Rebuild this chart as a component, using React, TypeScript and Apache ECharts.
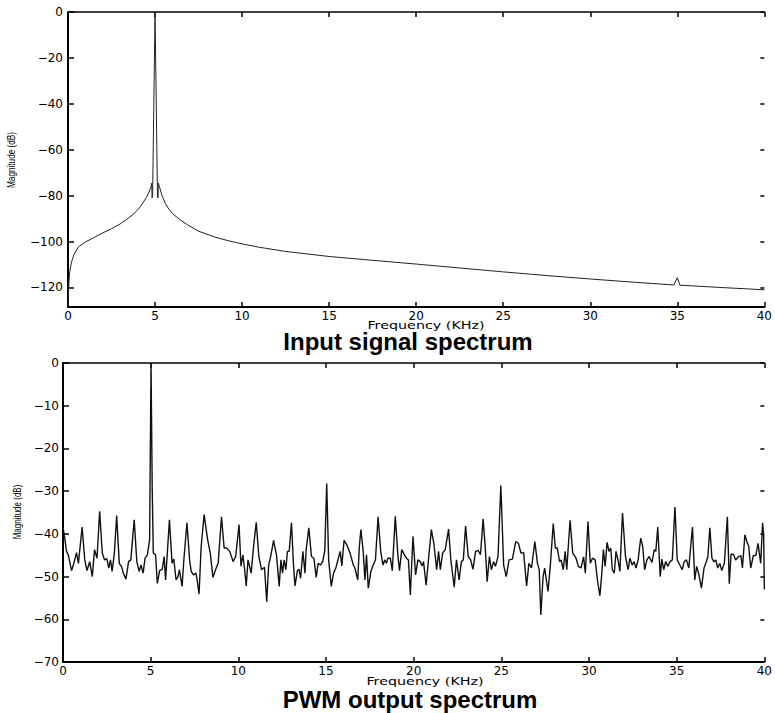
import React, { useEffect, useRef } from "react";
import * as echarts from "echarts";

const freqTicks = [0, 5, 10, 15, 20, 25, 30, 35, 40];
const inputTicks = [0, -20, -40, -60, -80, -100, -120];
const pwmTicks = [0, -10, -20, -30, -40, -50, -60, -70];

const inputFreq = [
  0, 0.02, 0.05, 0.1, 0.2, 0.35, 0.6, 1.0, 1.5, 2.0, 2.5, 3.0, 3.5, 3.8, 4.1, 4.3, 4.5, 4.65, 4.75,
  4.81, 4.83, 4.86, 5.0, 5.14, 5.17, 5.19, 5.25, 5.4, 5.6, 5.8, 6.0, 6.4, 6.8, 7.5, 8.5, 9.3, 10, 11,
  12.5, 15, 17.7, 20, 22.5, 25, 27.5, 30, 32.5, 34.8, 35.0, 35.15, 37.5, 40,
];
const inputMag = [
  -128.5, -124, -118, -113, -109, -105.5, -102.3, -100.2, -98.2, -96.2, -94.4, -92.3, -89.6, -87.8,
  -85.3, -83.2, -80.8, -78.5, -76.5, -74.5, -81, -80, 0, -80, -81, -74.5, -76, -80, -83.5, -86,
  -87.8, -90.3, -92.4, -95.5, -98.2, -99.8, -101, -102.5, -104.3, -106.5, -108.3, -109.8, -111.5,
  -113.2, -114.8, -116.3, -117.7, -118.9, -115.7, -119, -120, -121,
];

const pwmFreq = [
  0, 0.1, 0.2, 0.3, 0.49, 0.62, 0.77, 0.88, 1.09, 1.24, 1.37, 1.52, 1.67, 1.8, 1.94, 2.09, 2.24,
  2.37, 2.5, 2.61, 2.71, 2.8, 2.93, 3.06, 3.21, 3.35, 3.44, 3.59, 3.74, 3.87, 4.06, 4.21, 4.34,
  4.45, 4.57, 4.68, 4.81, 4.94, 5.02, 5.09, 5.15, 5.28, 5.38, 5.51, 5.66, 5.77, 5.85, 6.07, 6.22,
  6.32, 6.45, 6.56, 6.64, 6.79, 6.9, 7.07, 7.22, 7.31, 7.44, 7.58, 7.65, 7.76, 7.88, 8.05, 8.25,
  8.4, 8.55, 8.7, 8.85, 9.04, 9.19, 9.32, 9.51, 9.7, 9.85,
  10.04, 10.15, 10.26, 10.36, 10.45, 10.55, 10.64, 10.73, 10.87, 11.02, 11.17, 11.32, 11.49, 11.62,
  11.73, 11.86, 12.01, 12.18, 12.33, 12.43, 12.52, 12.61, 12.71, 12.8, 12.9, 13.03, 13.14, 13.23,
  13.37, 13.46, 13.55, 13.68, 13.8, 13.87, 14.02, 14.17, 14.31, 14.44, 14.55, 14.68, 14.81, 14.93,
  15.04, 15.15, 15.3, 15.43, 15.56, 15.68, 15.81, 15.9, 16.03, 16.18, 16.37, 16.56, 16.65, 16.81,
  16.9, 16.99, 17.12, 17.22, 17.31, 17.41, 17.56, 17.69, 17.82, 17.97, 18.12, 18.25, 18.35, 18.44,
  18.53, 18.67, 18.78, 18.95, 19.1, 19.19, 19.32, 19.47, 19.59, 19.7, 19.81,
  19.96, 20.11, 20.24, 20.37, 20.48, 20.56, 20.71, 20.86, 21.01, 21.16, 21.31, 21.42, 21.52, 21.65,
  21.8, 21.99, 22.12, 22.31, 22.44, 22.59, 22.72, 22.83, 22.96, 23.11, 23.25, 23.38, 23.53, 23.68,
  23.81, 23.96, 24.09, 24.19, 24.32, 24.43, 24.56, 24.66, 24.81, 24.97, 25.13, 25.28, 25.44, 25.63,
  25.82, 25.97, 26.12, 26.27, 26.44, 26.57, 26.72, 26.91, 27.06, 27.16, 27.25, 27.38, 27.47, 27.66,
  27.79, 27.96, 28.08, 28.19, 28.32, 28.41, 28.53, 28.64, 28.73, 28.92, 29.07, 29.26, 29.39, 29.54,
  29.69,
  29.79, 29.94, 30.07, 30.2, 30.35, 30.48, 30.62, 30.73, 30.82, 30.92, 31.03, 31.14, 31.24, 31.33,
  31.44, 31.54, 31.65, 31.76, 31.91, 32.08, 32.23, 32.33, 32.46, 32.57, 32.68, 32.8, 32.95, 33.06,
  33.17, 33.3, 33.43, 33.59, 33.72, 33.81, 33.92, 34.06, 34.15, 34.26, 34.37, 34.49, 34.62, 34.75,
  34.9, 35.03, 35.18, 35.31, 35.43, 35.56, 35.69, 35.9, 36.03, 36.14, 36.25, 36.41, 36.56, 36.69,
  36.78, 36.89, 37.01, 37.12, 37.23, 37.34, 37.46, 37.57, 37.72, 37.89, 38.0, 38.1, 38.25, 38.36,
  38.51, 38.66, 38.75, 38.89, 39.0, 39.11, 39.22, 39.37, 39.51, 39.64, 39.79, 39.9, 39.96, 40.0,
];
const pwmMag = [
  -38.4, -41.0, -44.1, -44.9, -48.6, -46.9, -44.4, -46.9, -38.4, -46.1, -48.6, -46.5, -50.0, -43.7,
  -45.7, -34.7, -44.5, -46.1, -45.8, -48.0, -46.1, -48.8, -44.5, -35.7, -46.9, -47.8, -49.2, -50.6,
  -46.5, -46.1, -36.7, -46.5, -48.8, -47.3, -49.2, -45.7, -44.9, -41.4, 0, -30, -44.5, -44.9, -51.6,
  -48.6, -48.3, -45.3, -50.8, -36.7, -46.9, -45.9, -50.8, -50.0, -48.4, -52.3, -45.7, -37.4, -46.1,
  -48.8, -49.6, -49.2, -50.8, -54.1, -42.9, -35.5, -41.4, -44.5, -50.2, -48.4, -46.9, -36.0, -43.3,
  -43.3, -44.1, -46.5, -45.3,
  -37.8, -47.6, -44.9, -48.4, -52.2, -46.1, -47.6, -49.2, -42.9, -37.3, -45.3, -48.4, -47.8, -55.9,
  -47.3, -44.9, -41.5, -45.1, -52.3, -46.1, -49.2, -46.1, -48.4, -44.1, -44.1, -37.4, -46.9, -52.2,
  -48.6, -48.3, -50.4, -44.1, -49.2, -43.6, -38.6, -45.3, -45.7, -50.2, -46.9, -47.3, -46.5, -43.9,
  -28.2, -46.1, -52.3, -49.2, -48.0, -46.1, -44.1, -47.5, -41.5, -42.5, -44.5, -47.3, -48.0, -50.8,
  -42.9, -39.0, -44.1, -50.8, -44.9, -52.7, -48.8, -47.3, -46.1, -36.0, -44.1, -47.3, -46.1, -46.9,
  -45.7, -45.7, -48.6, -35.9, -45.1, -48.6, -43.7, -44.9, -45.7, -46.1, -54.3,
  -40.6, -49.6, -46.1, -46.5, -47.5, -46.5, -52.0, -45.3, -39.0, -42.5, -48.4, -44.1, -48.4, -44.5,
  -43.7, -38.9, -46.1, -52.5, -46.1, -50.8, -46.5, -46.1, -38.2, -45.3, -46.1, -48.3, -44.1, -43.9,
  -44.9, -36.5, -43.7, -51.2, -45.3, -48.4, -46.5, -47.6, -45.3, -28.7, -47.3, -50.0, -46.1, -45.9,
  -41.8, -42.2, -44.5, -44.4, -52.2, -46.9, -48.0, -41.8, -46.9, -48.4, -59.0, -50.0, -48.0, -53.5,
  -47.6, -37.6, -43.3, -43.3, -46.5, -46.1, -48.4, -44.1, -48.4, -36.8, -44.5, -45.7, -47.6, -48.0,
  -45.4,
  -49.2, -37.1, -46.9, -45.7, -46.1, -50.8, -54.5, -49.2, -43.7, -47.6, -42.0, -44.1, -43.3, -48.4,
  -49.2, -44.1, -46.1, -48.8, -35.1, -45.3, -48.4, -45.7, -47.3, -46.5, -48.0, -46.1, -41.0, -42.9,
  -48.4, -46.1, -45.3, -46.7, -43.7, -44.1, -38.4, -50.0, -45.9, -48.4, -46.5, -47.6, -46.5, -46.1,
  -33.7, -46.1, -47.3, -48.4, -46.5, -46.1, -48.0, -38.4, -50.8, -47.6, -49.2, -52.7, -48.0, -46.5,
  -45.3, -38.6, -45.7, -46.5, -46.1, -48.0, -46.9, -48.6, -46.9, -36.0, -51.7, -44.7, -44.9, -46.1,
  -45.4, -45.1, -48.0, -40.2, -41.8, -42.9, -48.0, -45.1, -45.1, -42.2, -46.9, -37.4, -40.6, -53.0,
];

const titles = ["Input signal spectrum", "PWM output spectrum"];
const xName = "Frequency (KHz)";
const yName = "Magnitude (dB)";

const fmt = (v: number) => (v < 0 ? "\u2212" + Math.abs(v) : String(v));

const TICK_FONT = "DejaVu Sans";

function xAxes(grid: number) {
  const base = {
    type: "value" as const,
    gridIndex: grid,
    min: freqTicks[0],
    max: freqTicks[freqTicks.length - 1],
    interval: 5,
    splitLine: { show: false },
    axisTick: { inside: true, length: 5, lineStyle: { color: "#000", width: 1.5 } },
  };
  return [
    {
      ...base,
      position: "bottom",
      axisLine: { show: true, onZero: false, lineStyle: { color: "#000", width: 2 } },
      axisLabel: { margin: 3, color: "#000", fontFamily: TICK_FONT, fontSize: 12 },
    },
    {
      ...base,
      position: "top",
      axisLine: { show: true, onZero: false, lineStyle: { color: "#000", width: 1.5 } },
      axisLabel: { show: false },
    },
  ];
}

function yAxes(grid: number, min: number, ticks: number[], margin: number) {
  const base = {
    type: "value" as const,
    gridIndex: grid,
    min,
    max: 0,
    splitLine: { show: false },
  };
  return [
    {
      ...base,
      position: "left",
      axisLine: { show: true, onZero: false, lineStyle: { color: "#000", width: 2 } },
      axisTick: {
        inside: true,
        length: 6,
        customValues: ticks,
        lineStyle: { color: "#000", width: 1.5 },
      },
      axisLabel: {
        margin,
        color: "#000",
        fontFamily: TICK_FONT,
        fontSize: 12,
        customValues: ticks,
        formatter: (v: number) => fmt(v),
      },
    },
    {
      ...base,
      position: "right",
      axisLine: { show: false, onZero: false },
      axisTick: {
        show: true,
        inside: true,
        length: 4,
        customValues: ticks,
        lineStyle: { color: "#000", width: 1.5 },
      },
      axisLabel: { show: false },
    },
  ];
}

export default function App() {
  const ref = useRef<HTMLDivElement>(null);

  useEffect(() => {
    if (!ref.current) return;
    const chart = echarts.init(ref.current, undefined, { renderer: "svg" });

    const inputData = inputFreq.map((f, i) => [f, inputMag[i]]);
    const pwmData = pwmFreq.map((f, i) => [f, pwmMag[i]]);

    const text = (
      t: string,
      x: number,
      y: number,
      size: number,
      opts: { bold?: boolean; family?: string; rotation?: number; scaleX?: number } = {}
    ) => ({
      type: "text",
      x,
      y,
      rotation: opts.rotation || 0,
      scaleX: opts.scaleX || 1,
      scaleY: 1,
      silent: true,
      style: {
        text: t,
        fill: "#000",
        fontSize: size,
        fontFamily: opts.family || "Liberation Sans",
        fontWeight: opts.bold ? "bold" : "normal",
        textAlign: "center",
        textVerticalAlign: "middle",
        align: "center",
        verticalAlign: "middle",
      },
    });

    chart.setOption({
      animation: false,
      backgroundColor: "#fff",
      grid: [
        { left: 68, top: 12, width: 704, height: 295 },
        { left: 63, top: 363, width: 709, height: 299 },
      ],
      xAxis: [...xAxes(0), ...xAxes(1)],
      yAxis: [
        ...yAxes(0, -128.5, inputTicks, 5),
        ...yAxes(1, pwmTicks[pwmTicks.length - 1], pwmTicks, 4),
      ],
      series: [
        {
          type: "line",
          xAxisIndex: 0,
          yAxisIndex: 0,
          data: inputData,
          showSymbol: false,
          symbol: "none",
          lineStyle: { color: "#222", width: 1 },
          clip: true,
        },
        {
          type: "line",
          xAxisIndex: 2,
          yAxisIndex: 2,
          data: pwmData,
          showSymbol: false,
          symbol: "none",
          lineStyle: { color: "#111", width: 1.4 },
          clip: true,
        },
      ],
      graphic: [
        text(xName, 426, 325, 11, { family: TICK_FONT, scaleX: 1.3 }),
        text(xName, 425, 681, 11, { family: TICK_FONT, scaleX: 1.3 }),
        text(titles[0], 408, 341, 24, { bold: true }),
        text(titles[1], 410, 699, 24, { bold: true }),
        text(yName, 12, 160, 10, { rotation: Math.PI / 2, scaleX: 0.82 }),
        text(yName, 18, 512, 10, { rotation: Math.PI / 2, scaleX: 0.8 }),
      ],
    });

    return () => {
      chart.dispose();
    };
  }, []);

  return (
    <div
      ref={ref}
      style={{ position: "fixed", left: 0, top: 0, width: 775, height: 713, background: "#fff" }}
    />
  );
}
